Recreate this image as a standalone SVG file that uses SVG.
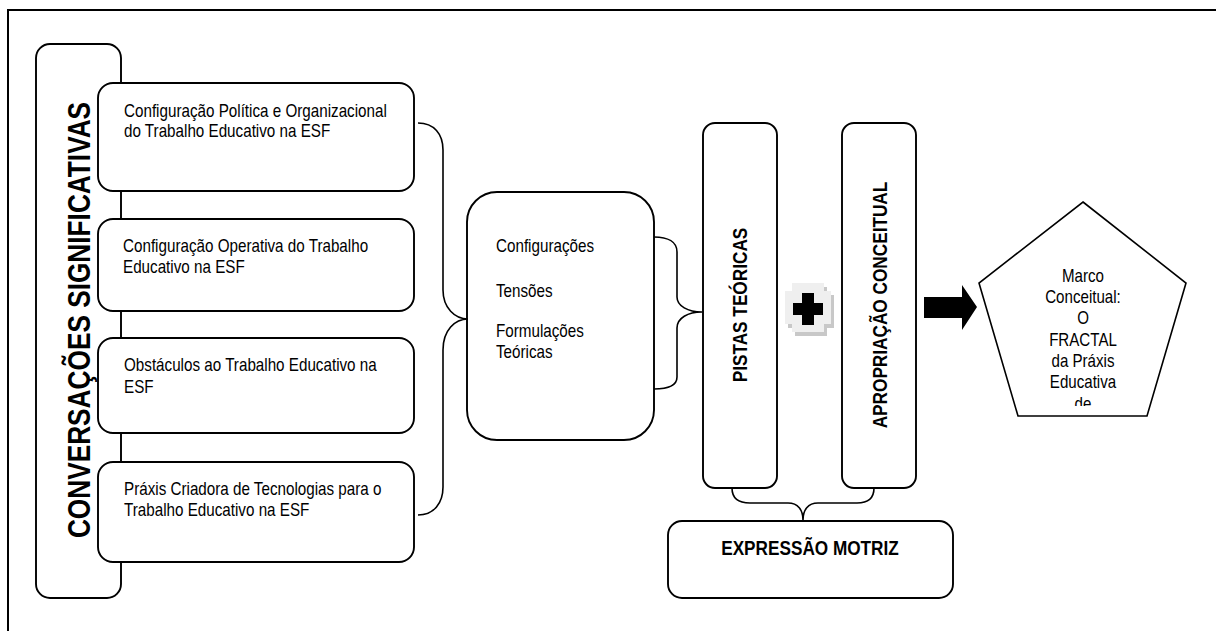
<svg xmlns="http://www.w3.org/2000/svg" width="1216" height="631" viewBox="0 0 1216 631">
<style>
.box{fill:#fff;stroke:#000;stroke-width:1.9}
.br{fill:none;stroke:#000;stroke-width:1.6}
.t{font-family:"Liberation Sans",Arial,sans-serif;font-size:18px;fill:#000}
.b{font-family:"Liberation Sans",Arial,sans-serif;font-weight:bold;fill:#000}
</style>
<defs>
<clipPath id="pc"><rect x="970" y="200" width="230" height="206"/></clipPath>
</defs>
<rect width="1216" height="631" fill="#fff"/>
<path d="M8,631 V10 H1216" fill="none" stroke="#000" stroke-width="2"/>
<g id="conversacoes">
<rect class="box" x="36" y="44" width="85" height="554" rx="14"/>
<text class="b" font-size="32" text-anchor="middle" transform="translate(90,320) rotate(-90) scale(0.82,1)">CONVERSAÇÕES SIGNIFICATIVAS</text>
</g>
<g id="box1">
<rect class="box" x="98" y="83" width="316" height="108" rx="15"/>
<text class="t" transform="translate(124,117) scale(0.845,1)">Configuração Política e Organizacional</text>
<text class="t" transform="translate(124,137) scale(0.845,1)">do Trabalho Educativo na ESF</text>
</g>
<g id="box2">
<rect class="box" x="98" y="219" width="316" height="92" rx="15"/>
<text class="t" transform="translate(123,252) scale(0.845,1)">Configuração Operativa do Trabalho</text>
<text class="t" transform="translate(123,273) scale(0.845,1)">Educativo na ESF</text>
</g>
<g id="box3">
<rect class="box" x="98" y="338" width="316" height="95" rx="15"/>
<text class="t" transform="translate(124,371) scale(0.845,1)">Obstáculos ao Trabalho Educativo na</text>
<text class="t" transform="translate(124,393) scale(0.845,1)">ESF</text>
</g>
<g id="box4">
<rect class="box" x="98" y="462" width="316" height="100" rx="15"/>
<text class="t" transform="translate(124,495) scale(0.845,1)">Práxis Criadora de Tecnologias para o</text>
<text class="t" transform="translate(124,516) scale(0.845,1)">Trabalho Educativo na ESF</text>
</g>
<g id="middle">
<rect class="box" x="467" y="192" width="187" height="248" rx="30"/>
<text class="t" transform="translate(496,252) scale(0.845,1)">Configurações</text>
<text class="t" transform="translate(496,297) scale(0.845,1)">Tensões</text>
<text class="t" transform="translate(496,337) scale(0.845,1)">Formulações</text>
<text class="t" transform="translate(496,358) scale(0.845,1)">Teóricas</text>
</g>
<g id="pistas">
<rect class="box" x="703" y="123" width="74" height="365" rx="12"/>
<text class="b" font-size="21" text-anchor="middle" transform="translate(747,305) rotate(-90) scale(0.82,1)">PISTAS TEÓRICAS</text>
</g>
<g id="plus">
<path fill="#c8c8c8" d="M795,287 H827 V295 H834 V328 H827 V336 H795 V328 H788 V295 H795 Z"/>
<path fill="#efefef" d="M792,283 H824 V291 H831 V324 H824 V332 H792 V324 H785 V291 H792 Z"/>
<path fill="#000" d="M802,293 H814 V303 H823 V315 H814 V325 H802 V315 H793 V303 H802 Z"/>
</g>
<g id="apropriacao">
<rect class="box" x="842" y="123" width="74" height="365" rx="12"/>
<text class="b" font-size="21" text-anchor="middle" transform="translate(887,305) rotate(-90) scale(0.82,1)">APROPRIAÇÃO CONCEITUAL</text>
</g>
<g id="expressao">
<rect class="box" x="668" y="521" width="285" height="77" rx="14"/>
<text class="b" font-size="20" text-anchor="middle" transform="translate(810,555) scale(0.86,1)">EXPRESSÃO MOTRIZ</text>
</g>
<g id="marco">
<polygon points="1083,202 1186,283 1147,416 1018,416 979,283" fill="#fff" stroke="#000" stroke-width="1.6"/>
<g clip-path="url(#pc)">
<g class="t" text-anchor="middle">
<text transform="translate(1083,282) scale(0.84,1)">Marco</text>
<text transform="translate(1083,303) scale(0.84,1)">Conceitual:</text>
<text transform="translate(1083,324) scale(0.84,1)">O</text>
<text transform="translate(1083,346) scale(0.84,1)">FRACTAL</text>
<text transform="translate(1083,367) scale(0.84,1)">da Práxis</text>
<text transform="translate(1083,388) scale(0.84,1)">Educativa</text>
<text transform="translate(1083,410) scale(0.84,1)">de</text>
</g>
</g>
</g>
<g id="connectors">
<path class="br" d="M418,123 C434,123 443,134 443,150 V290 C443,308 455,319 468,319 C455,319 443,330 443,350 V487 C443,503 434,515 418,515"/>
<path class="br" d="M654,237 C668,237 677,242 677,252 V297 C677,306 688,312 702,312 C688,312 677,318 677,328 V377 C677,385 668,389 654,389"/>
<path class="br" d="M732,488 C732,498 738,503 750,503 H788 C798,503 803,510 803,520 C803,510 808,503 818,503 H857 C868,503 874,498 874,488"/>
<path fill="#000" d="M924,297 H962 V285 L977,307 L962,330 V318 H924 Z"/>
</g>
</svg>
